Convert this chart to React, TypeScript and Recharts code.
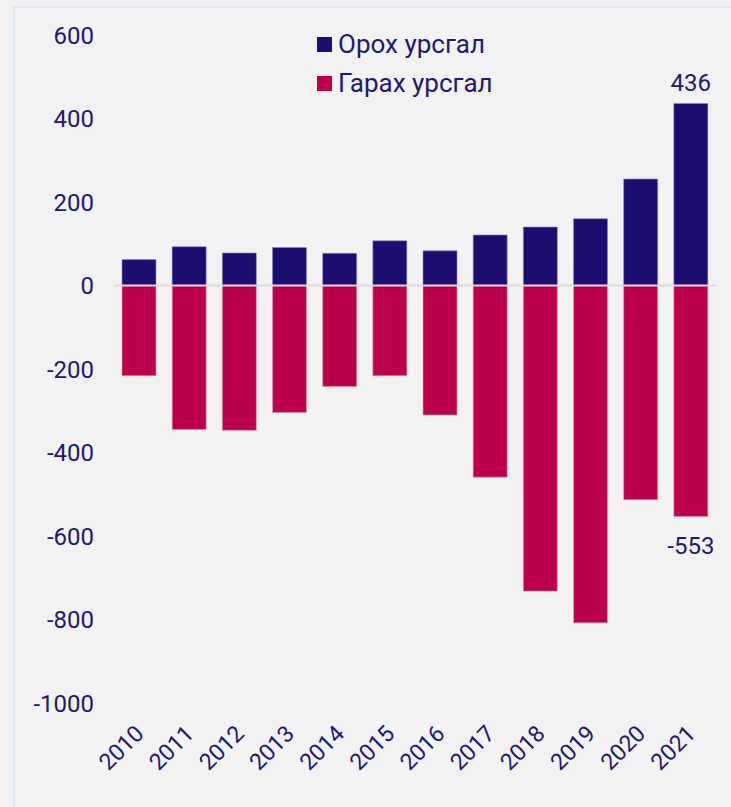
import React from 'react';
import {
  BarChart,
  Bar,
  XAxis,
  YAxis,
  ReferenceLine,
  LabelList,
} from 'recharts';

const years = ['2010', '2011', '2012', '2013', '2014', '2015', '2016', '2017', '2018', '2019', '2020', '2021'];
const inflow = [62, 93, 78, 91, 77, 107, 83, 121, 140, 160, 255, 436];
const outflow = [-216, -345, -347, -304, -242, -216, -310, -459, -732, -808, -513, -553];
const yTicks = [-1000, -800, -600, -400, -200, 0, 200, 400, 600];

const data = years.map((year, i) => ({ year, inflow: inflow[i], outflow: outflow[i] }));

const NAVY = '#1b0e70';
const RED = '#bc004b';
const TEXT = '#1f1870';
const FONT = 'Roboto, sans-serif';

const YearTick = (props: any) => {
  const { x, y, payload } = props;
  return (
    <text
      transform={`translate(${x + 6}, ${y + 24}) rotate(-45)`}
      textAnchor="end"
      fill={TEXT}
      fontSize={23}
      fontFamily={FONT}
    >
      {payload.value}
    </text>
  );
};

const LastLabel = (above: boolean) => (props: any) => {
  const { x, y, width, height, value, index } = props;
  if (index !== years.length - 1) return null;
  const cx = x + width / 2;
  const top = Math.min(y, y + height);
  const bottom = Math.max(y, y + height);
  const yy = above ? top - 12 : bottom + 38;
  return (
    <text x={cx} y={yy} textAnchor="middle" fill={TEXT} fontSize={24} fontFamily={FONT}>
      {value}
    </text>
  );
};

const legendItems = [
  { name: 'Орох урсгал', color: NAVY },
  { name: 'Гарах урсгал', color: RED },
];

const FlowChart = () => {
  return (
    <div style={{ position: 'fixed', left: 0, top: 0, width: 731, height: 807, background: '#f2f2f2', overflow: 'hidden' }}>
      <div
        style={{
          position: 'absolute',
          left: 13,
          top: 6,
          right: 0,
          bottom: 0,
          borderLeft: '2px solid #dde9f6',
          borderTop: '2px solid #dde9f6',
        }}
      />
      <div style={{ position: 'absolute', left: 0, top: 0 }}>
        <BarChart
          width={731}
          height={807}
          data={data}
          stackOffset="sign"
          margin={{ top: 35, right: 15, left: 14, bottom: 14 }}
          barSize={34}
        >
          <XAxis
            dataKey="year"
            axisLine={false}
            tickLine={false}
            interval={0}
            height={90}
            tick={<YearTick />}
          />
          <YAxis
            domain={[-1000, 600]}
            ticks={yTicks}
            axisLine={false}
            tickLine={false}
            width={100}
            tickMargin={14}
            tick={{ fill: TEXT, fontSize: 24, fontFamily: FONT }}
          />
          <Bar dataKey="inflow" stackId="a" fill={NAVY} stroke="#8f8ac0" strokeWidth={0.6} isAnimationActive={false}>
            <LabelList dataKey="inflow" content={LastLabel(true)} />
          </Bar>
          <Bar dataKey="outflow" stackId="a" fill={RED} stroke="#e69ab8" strokeWidth={0.6} isAnimationActive={false}>
            <LabelList dataKey="outflow" content={LastLabel(false)} />
          </Bar>
          <ReferenceLine y={0} stroke="#d9d9d9" strokeWidth={2} />
        </BarChart>
      </div>
      <div style={{ position: 'absolute', left: 317, top: 25, fontFamily: FONT, color: TEXT, fontSize: 26, lineHeight: '39px' }}>
        {legendItems.map((item) => (
          <div key={item.name} style={{ display: 'flex', alignItems: 'center', height: 39 }}>
            <span style={{ width: 15, height: 15, background: item.color, marginRight: 6, display: 'inline-block' }} />
            <span>{item.name}</span>
          </div>
        ))}
      </div>
    </div>
  );
};

export default FlowChart;
